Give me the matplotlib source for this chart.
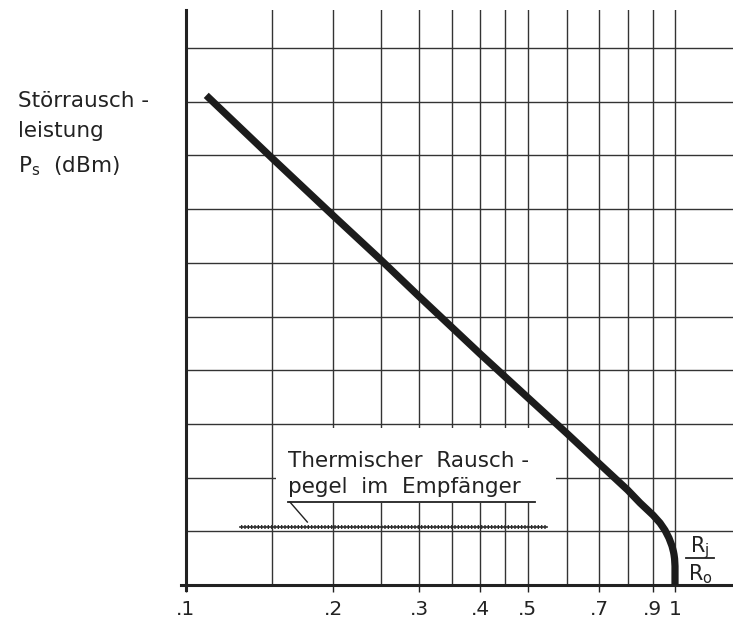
import matplotlib
matplotlib.use("Agg")
import matplotlib.pyplot as plt
from matplotlib.patches import Rectangle
from matplotlib.lines import Line2D

# ---- data ----
ratio = [0.11, 0.15, 0.20, 0.25, 0.30, 0.40, 0.50, 0.60, 0.70, 0.80, 0.848,
         0.902, 0.932, 0.954, 0.972, 0.986, 0.993, 0.9953, 0.998, 1.0, 1.0]
power = [9.12, 7.95, 6.88, 6.06, 5.37, 4.30, 3.49, 2.83, 2.26, 1.77, 1.53,
         1.30, 1.155, 1.02, 0.875, 0.726, 0.616, 0.568, 0.49, 0.35, 0.0]
noise_x = [0.129, 0.547]
noise_level = 1.08
tick_vals = [0.1, 0.2, 0.3, 0.4, 0.5, 0.7, 0.9, 1.0]
tick_labels = [".1", ".2", ".3", ".4", ".5", ".7", ".9", "1"]
minor_grid = [0.15, 0.25, 0.35, 0.45, 0.6, 0.8]
y_grid = [1, 2, 3, 4, 5, 6, 7, 8, 9, 10]

plt.rcParams['font.family'] = ['DejaVu Sans']
plt.rcParams['mathtext.fontset'] = 'dejavusans'
ink = '#222222'
gridc = '#333333'

fig = plt.figure(figsize=(7.33, 6.22), dpi=100)
W, H = 733, 622
ax = fig.add_axes([186 / W, 1 - 585 / H, (733 - 186) / W, (585 - 10) / H])
ax.set_xscale('log')
ax.set_xlim(0.1, 1.314)
ax.set_ylim(0, 10.71)

ax.set_xticks(tick_vals)
ax.set_xticklabels(tick_labels, fontsize=14.5, color=ink)
ax.set_xticks(minor_grid, minor=True)
ax.xaxis.set_minor_formatter(matplotlib.ticker.NullFormatter())
ax.tick_params(axis='x', which='major', length=5, width=1.0, color=ink, pad=6)
ax.tick_params(axis='x', which='minor', length=0)
ax.set_yticks(y_grid)
ax.set_yticklabels([])
ax.tick_params(axis='y', length=0)

ax.grid(True, which='both', axis='x', color=gridc, lw=1.0)
ax.grid(True, which='major', axis='y', color=gridc, lw=1.0)
ax.set_axisbelow(True)

for s in ['top', 'right']:
    ax.spines[s].set_visible(False)
for s in ['left', 'bottom']:
    ax.spines[s].set_linewidth(2.2)
    ax.spines[s].set_color(ink)
ax.spines['left'].set_bounds(-0.1, 10.71)
ax.spines['bottom'].set_bounds(0.0975, 1.314)

# white box behind the annotation text
ax.add_patch(Rectangle((0.1645, 0.1426), 0.676 - 0.1645, 0.273 - 0.1426,
                       transform=ax.transAxes, facecolor='white',
                       edgecolor='none', zorder=1.5))

# main curve
ax.plot(ratio, power, color='#1c1c1c', lw=5.2, solid_capstyle='butt',
        solid_joinstyle='round', zorder=4)

# thermal noise level (hatched thin band)
ax.fill_between(noise_x, noise_level - 0.03, noise_level + 0.03,
                facecolor='none', edgecolor='#333333', hatch='|||||',
                linewidth=0, zorder=3)
ax.plot(noise_x, [noise_level, noise_level], color='#2a2a2a', lw=1.2, zorder=3)

# annotation text
ax.text(0.1865, (585 - 467) / 575, "Thermischer  Rausch -", transform=ax.transAxes,
        fontsize=15.5, color=ink, va='baseline', ha='left', zorder=5)
ax.text(0.1865, (585 - 493) / 575, "pegel  im  Empfänger", transform=ax.transAxes,
        fontsize=15.5, color=ink, va='baseline', ha='left', zorder=5)
ax.add_line(Line2D([0.1865, 0.638], [0.1443, 0.1443], transform=ax.transAxes,
                   color=ink, lw=1.3, zorder=5))
ax.add_line(Line2D([0.190, 0.2218], [0.1443, 0.1095], transform=ax.transAxes,
                   color=ink, lw=1.0, zorder=5))

# y-axis label
fig.text(18 / W, 1 - 107 / H, "Störrausch -", fontsize=15.5, color=ink, va='baseline')
fig.text(18 / W, 1 - 137 / H, "leistung", fontsize=15.5, color=ink, va='baseline')
fig.text(18 / W, 1 - 172 / H, r"P$_\mathsf{s}$  (dBm)", fontsize=15.5, color=ink,
         va='baseline')

# x-axis label as fraction
fig.text(700 / W, 1 - 552 / H, r"R$_\mathsf{j}$", fontsize=15, color=ink,
         va='baseline', ha='center')
fig.text(700 / W, 1 - 580 / H, r"R$_\mathsf{o}$", fontsize=15, color=ink,
         va='baseline', ha='center')
fig.add_artist(Line2D([686 / W, 714 / W], [1 - 558 / H, 1 - 558 / H],
                      transform=fig.transFigure, color=ink, lw=1.3))

fig.savefig('out.png', dpi=100, facecolor='white')
